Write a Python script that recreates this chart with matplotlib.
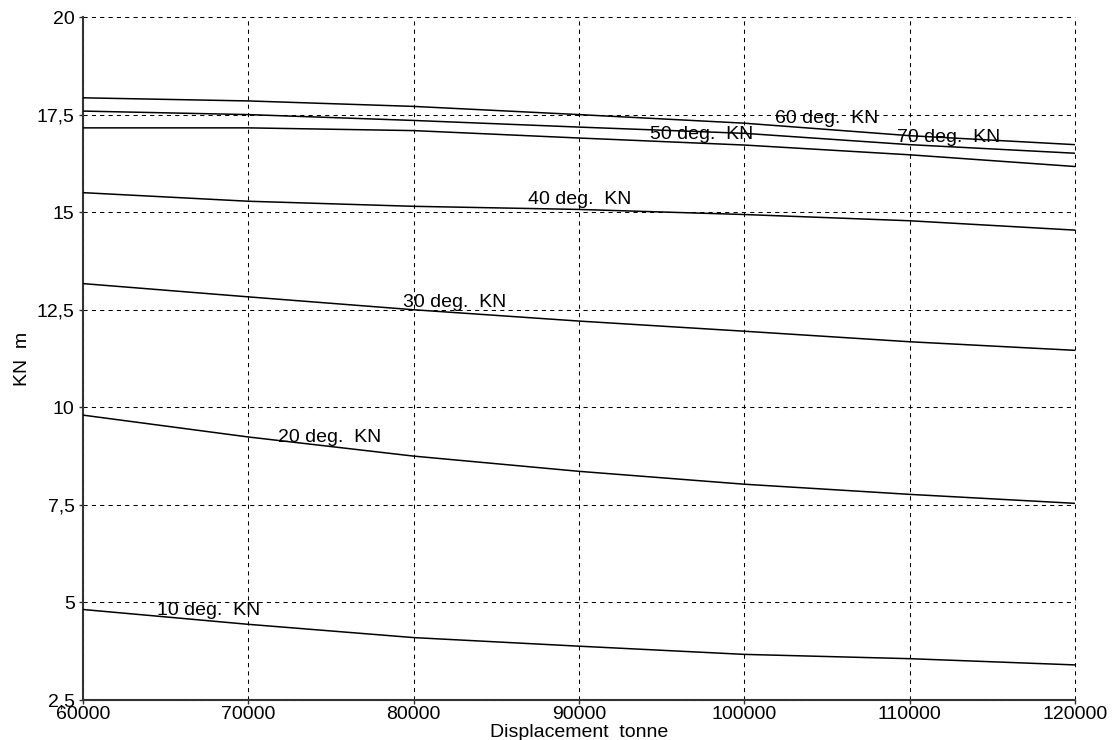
import numpy as np
import matplotlib.pyplot as plt

plt.rcParams["font.family"] = ["Liberation Sans", "DejaVu Sans"]

displacement = [60000, 70000, 80000, 90000, 100000, 110000, 120000]

kn_10 = [4.82, 4.44, 4.10, 3.88, 3.67, 3.56, 3.40]
kn_20 = [9.80, 9.24, 8.75, 8.36, 8.03, 7.77, 7.54]
kn_30 = [13.17, 12.83, 12.50, 12.21, 11.95, 11.68, 11.46]
kn_40 = [15.50, 15.28, 15.15, 15.07, 14.94, 14.78, 14.54]
kn_50 = [17.16, 17.16, 17.09, 16.90, 16.72, 16.47, 16.17]
kn_60 = [17.93, 17.85, 17.71, 17.50, 17.28, 16.96, 16.73]
kn_70 = [17.59, 17.50, 17.35, 17.18, 17.02, 16.73, 16.51]

curve_names = ["10 deg.  KN", "20 deg.  KN", "30 deg.  KN", "40 deg.  KN",
               "50 deg.  KN", "60 deg.  KN", "70 deg.  KN"]
curves = [kn_10, kn_20, kn_30, kn_40, kn_50, kn_60, kn_70]

# where each curve name sits (left edge, baseline)
label_x = [64480, 71800, 79360, 86920, 94300, 101860, 109240]
label_y = [4.68, 9.11, 12.57, 15.20, 16.88, 17.29, 16.81]

x_ticks = [60000, 70000, 80000, 90000, 100000, 110000, 120000]
y_ticks = [2.5, 5, 7.5, 10, 12.5, 15, 17.5, 20]
y_tick_labels = ["2,5", "5", "7,5", "10", "12,5", "15", "17,5", "20"]

fig = plt.figure(figsize=(11.12, 7.4), dpi=100)
ax = fig.add_axes([0.0746, 0.054, 0.892, 0.923])

for vals in curves:
    ax.plot(displacement, vals, color="black", lw=1.1, zorder=3)

for name, lx, ly in zip(curve_names, label_x, label_y):
    ax.text(lx, ly, name, fontsize=14, ha="left", va="baseline", zorder=4)

ax.set_xlim(60000, 120000)
ax.set_ylim(2.5, 20)
ax.set_xticks(x_ticks)
ax.set_xticklabels([str(v) for v in x_ticks], fontsize=14)
ax.set_yticks(y_ticks)
ax.set_yticklabels(y_tick_labels, fontsize=14)
ax.tick_params(axis="both", direction="out", length=3, width=1, color="#333333")
ax.tick_params(axis="x", pad=1)
ax.tick_params(axis="y", pad=3)

ax.grid(True, color="black", lw=0.75, linestyle=(0, (4, 4)), clip_on=False)
ax.set_axisbelow(True)

for side in ["top", "right"]:
    ax.spines[side].set_visible(False)
for side in ["left", "bottom"]:
    ax.spines[side].set_color("#333333")
    ax.spines[side].set_linewidth(1.5)

ax.set_xlabel("Displacement  tonne", fontsize=14, labelpad=1)
ax.set_ylabel("KN  m", fontsize=14, labelpad=4)

fig.savefig("out.png", dpi=100)
plt.close(fig)
